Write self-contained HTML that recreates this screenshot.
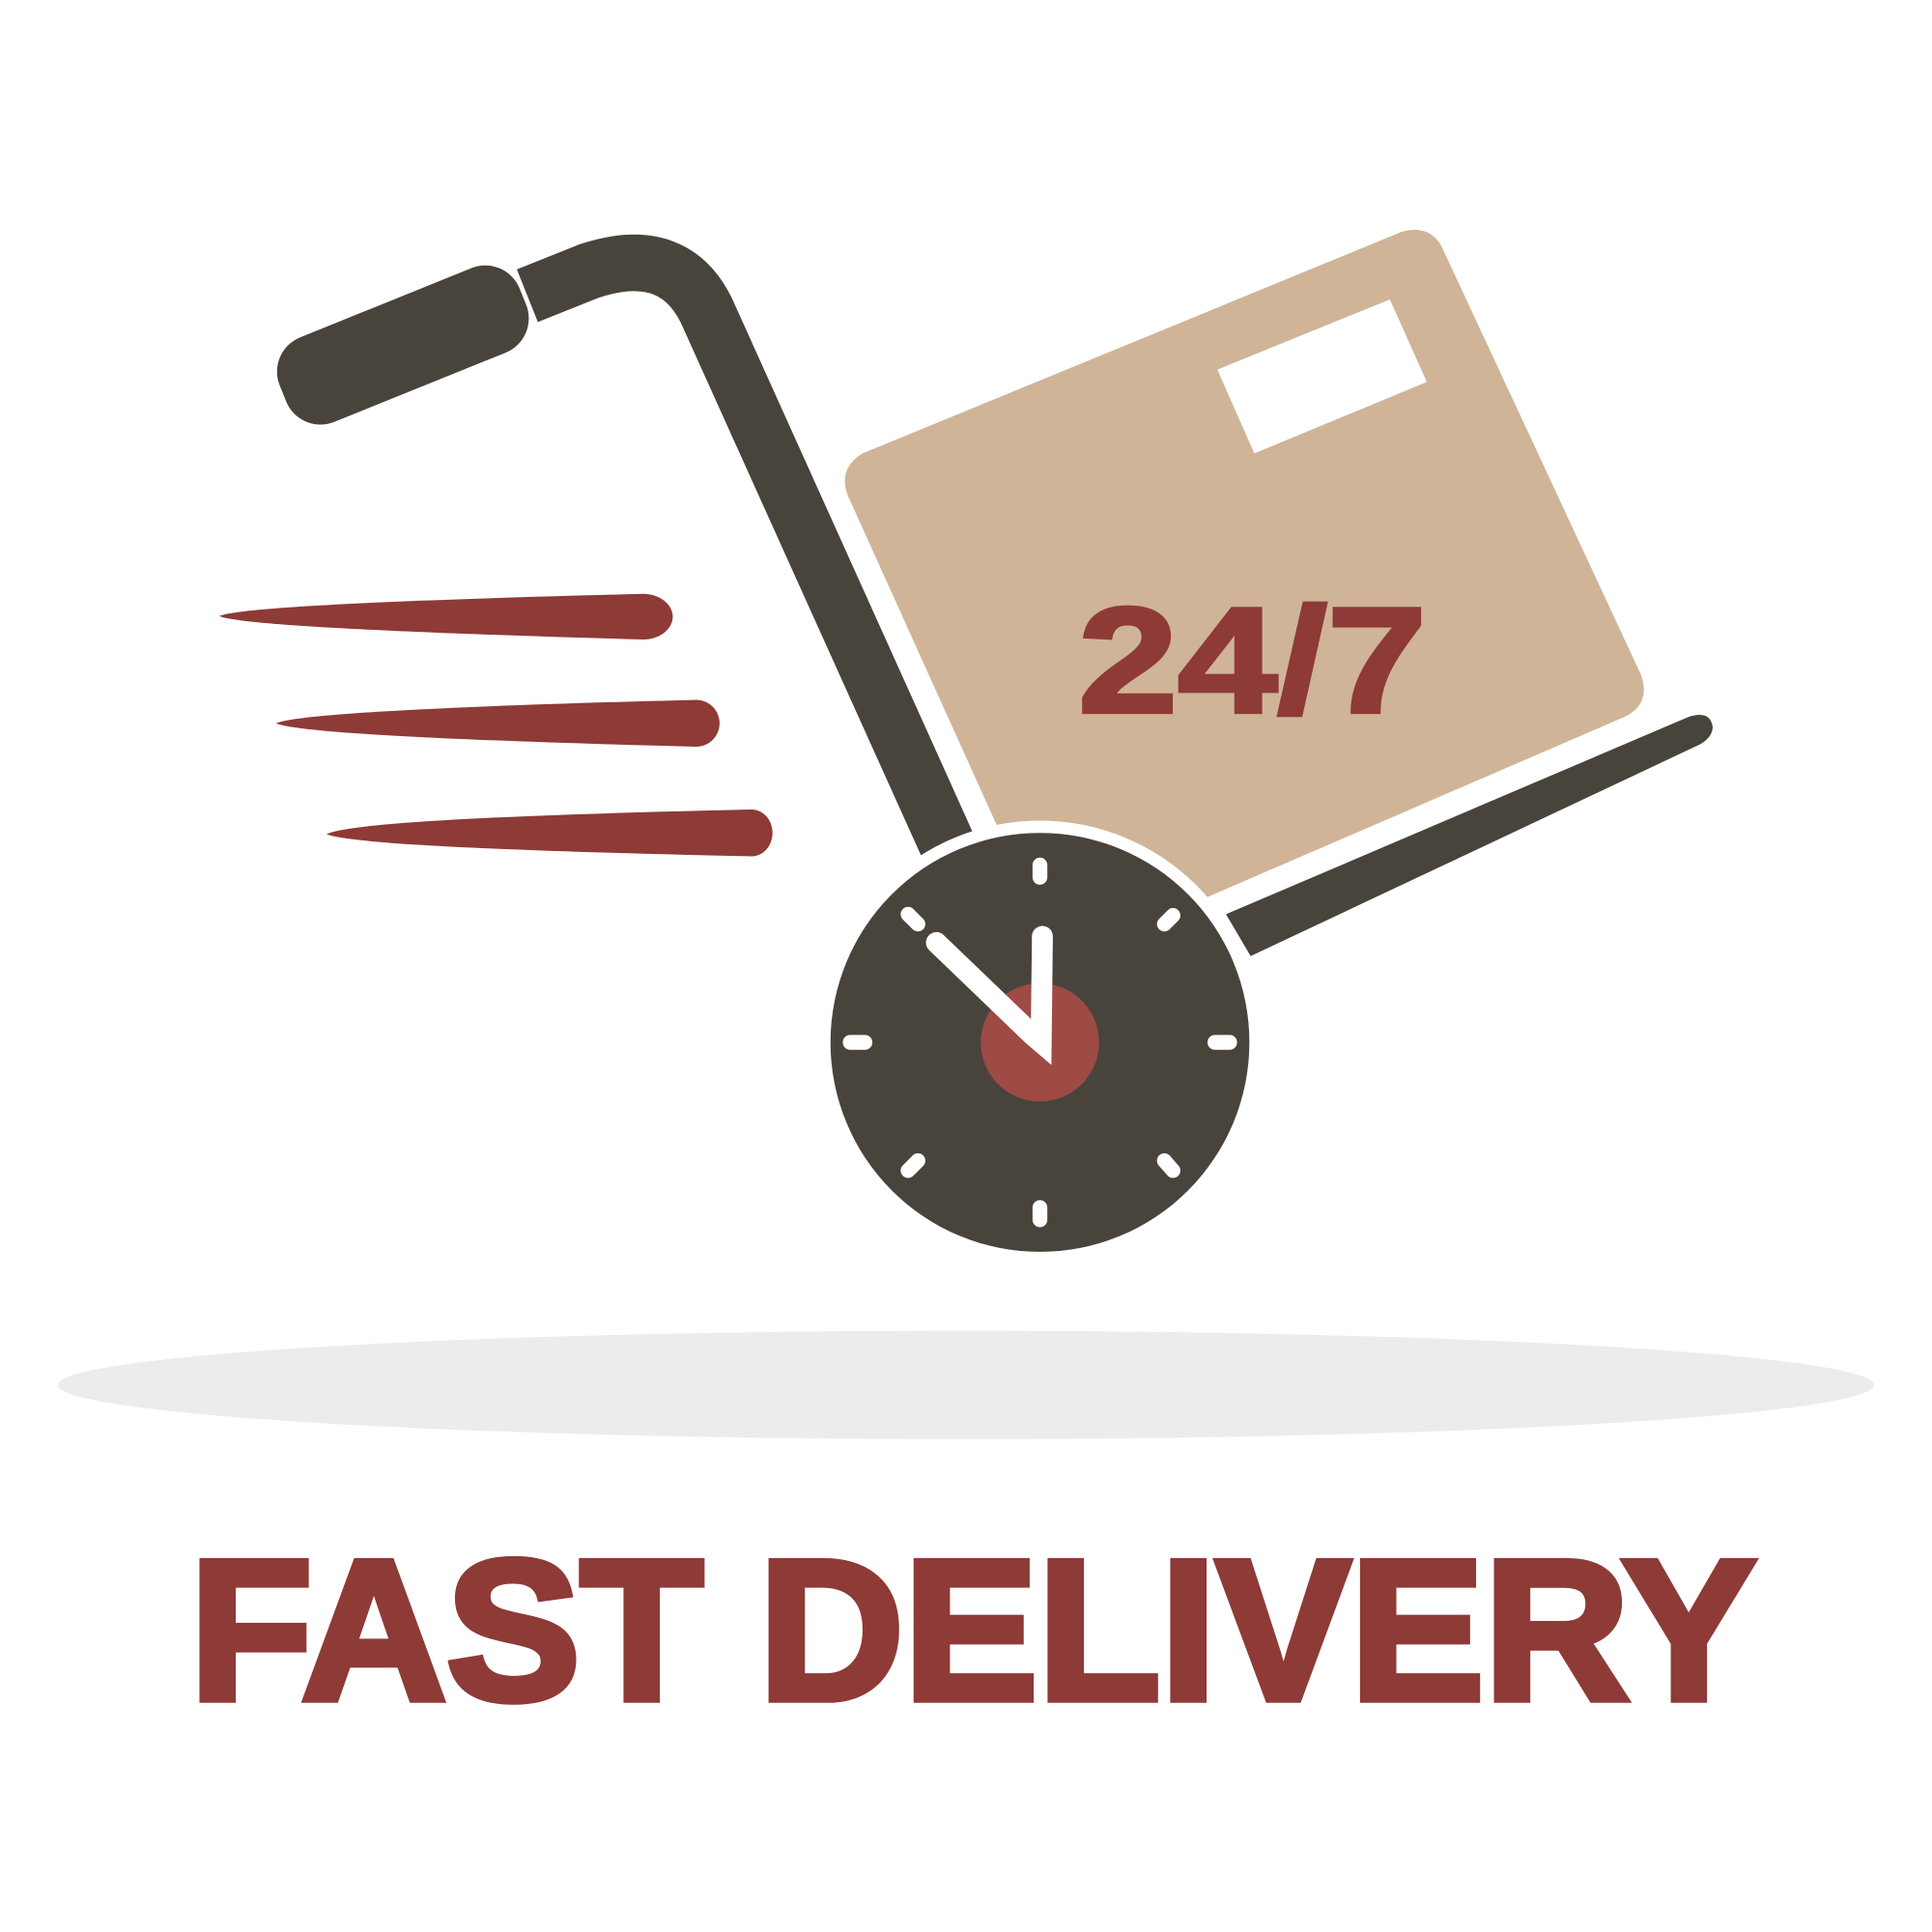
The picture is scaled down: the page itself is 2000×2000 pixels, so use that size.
<!DOCTYPE html>
<html><head><meta charset="utf-8"><style>
html,body{margin:0;padding:0;background:#fff;}
svg{display:block;}
</style></head><body>
<svg width="2000" height="2000" viewBox="0 0 1568 1568" xmlns="http://www.w3.org/2000/svg">
<rect width="1568" height="1568" fill="#fff"/>
<ellipse cx="784" cy="1124" rx="737" ry="44" fill="#ececec"/>
<g fill="#8e3a37">
<path d="M178,500 Q200,490 522,482 A24,18.5 0 0 1 522,519 Q200,510 178,500 Z"/>
<path d="M224,587 Q250,576 565,568 A19,19 0 0 1 565,606 Q250,598 224,587 Z"/>
<path d="M265,677 Q290,664 610,657 A17,19 0 0 1 610,695 Q290,688 265,677 Z"/>
</g>
<path d="M700,368 L1138,188 Q1160,182 1170,200 L1332,548 Q1340,572 1318,582 L980,728 L810,672 L688,402 Q680,380 700,368 Z" fill="#cfb498"/>
<polygon points="988,300 1128,243 1158,310 1018,368" fill="#fff"/>
<text x="875" y="578" textLength="283" lengthAdjust="spacingAndGlyphs" font-family="Liberation Sans, sans-serif" font-weight="bold" font-size="122" fill="#8e3a37" stroke="#8e3a37" stroke-width="3">24/7</text>
<path d="M428,240 L478,220 Q550,196 576,258 L769,686" fill="none" stroke="#48443c" stroke-width="46"/>
<g transform="translate(327,280) rotate(-22)">
<rect x="-105" y="-37" width="210" height="74" rx="30" fill="#48443c"/>
</g>
<path d="M995,742 L1370,582 Q1388,576 1390,590 Q1390,598 1380,604 L1015,776 Z" fill="#48443c"/>
<circle cx="844" cy="846" r="180" fill="#fff"/>
<circle cx="844" cy="846" r="170" fill="#48443c"/>
<circle cx="844" cy="846" r="48" fill="#9e4a45"/>
<g stroke="#fff" stroke-width="12" stroke-linecap="round">
<line x1="844" y1="702" x2="844" y2="712"/>
<line x1="844" y1="980" x2="844" y2="990"/>
<line x1="690" y1="846" x2="702" y2="846"/>
<line x1="986" y1="846" x2="998" y2="846"/>
<line x1="737" y1="742" x2="745" y2="750"/>
<line x1="945" y1="750" x2="952" y2="743"/>
<line x1="737" y1="950" x2="745" y2="942"/>
<line x1="945" y1="942" x2="952" y2="950"/>
</g>
<g stroke="#fff" stroke-width="17" stroke-linecap="round" fill="none">
<polyline points="760,765 838,840 845,846 846,760"/>
</g>
<text x="154" y="1379" textLength="1271" lengthAdjust="spacingAndGlyphs" font-family="Liberation Sans, sans-serif" font-weight="900" font-size="162" fill="#8e3a37" stroke="#8e3a37" stroke-width="6" stroke-linejoin="miter">FAST DELIVERY</text>
</svg>
</body></html>
